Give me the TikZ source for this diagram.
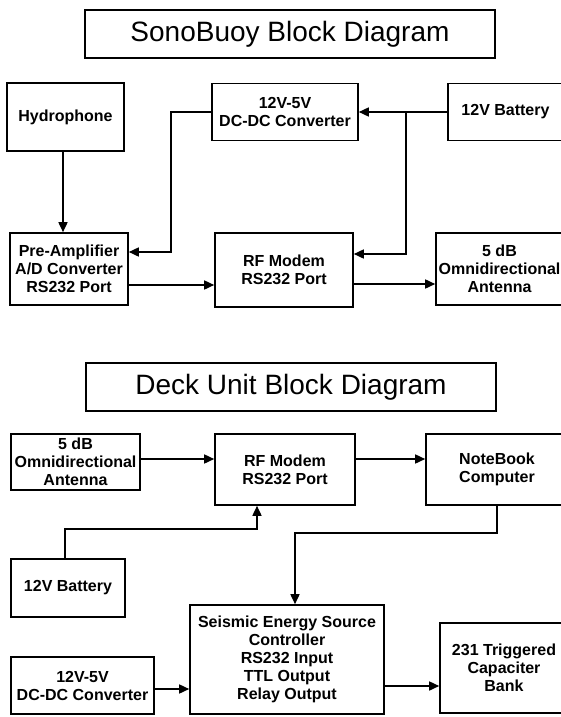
\documentclass[tikz,border=0pt]{standalone}
\usepackage{fontspec}
\setmainfont{Liberation Sans}
\usetikzlibrary{arrows.meta,calc}
\begin{document}
\begin{tikzpicture}[x=1pt,y=-1pt,
  box/.style={draw,line width=1.6pt,rectangle,inner sep=0pt,align=center,
    font=\fontsize{16}{18}\selectfont\bfseries},
  titlebox/.style={draw,line width=1.5pt,rectangle,inner sep=0pt,
    font=\fontsize{28}{32}\selectfont},
  arr/.style={line width=1.6pt,-{Triangle[length=10pt,width=9pt]}},
  ln/.style={line width=1.6pt}]
\clip (0,0) rectangle (561,717);
\fill[white] (0,0) rectangle (561,717);

% ---------- SonoBuoy ----------
\node[titlebox,minimum width=410,minimum height=48] (t1) at (290,34) {SonoBuoy Block Diagram};
\node[box,minimum width=117,minimum height=68] (hydro) at (65.5,117) {Hydrophone};
\node[box,minimum width=146,minimum height=57] (dc1) at (285,112) {12V-5V\\DC-DC Converter};
\node[box,minimum width=115,minimum height=57] (bat1) at (505.5,112) {12V Battery};
\node[box,minimum width=118,minimum height=72] (pre) at (69,269) {Pre-Amplifier\\A/D Converter\\RS232 Port};
\node[box,minimum width=138,minimum height=74] (rf1) at (284,270) {RF Modem\\RS232 Port};
\node[box,minimum width=127,minimum height=72] (ant1) at (499.5,269) {5 dB\\Omnidirectional\\Antenna};

\coordinate (j1) at (406,112);
\coordinate (c1) at (171,112);
\draw[arr] (bat1.west) -- (dc1.east);
\draw[arr] (j1) |- ([yshift=16pt]rf1.east);
\draw[arr] (dc1.west) -- (c1) |- ([yshift=17pt]pre.east);
\draw[arr] ([xshift=-2.5pt]hydro.south) -- ([xshift=-2.5pt]hydro.south |- pre.north);
\draw[arr] ([yshift=-16pt]pre.east) -- ([yshift=-16pt]pre.east -| rf1.west);
\draw[arr] ([yshift=-14pt]rf1.east) -- ([yshift=-14pt]rf1.east -| ant1.west);

% ---------- Deck Unit ----------
\node[titlebox,minimum width=410,minimum height=48] (t2) at (291,387) {Deck Unit Block Diagram};
\node[box,minimum width=129,minimum height=56] (ant2) at (75.5,462) {5 dB\\Omnidirectional\\Antenna};
\node[box,minimum width=140,minimum height=71] (rf2) at (285,469.5) {RF Modem\\RS232 Port};
\node[box,minimum width=142,minimum height=71] (nb) at (497,469.5) {NoteBook\\Computer};
\node[box,minimum width=114,minimum height=58] (bat2) at (68,588) {12V Battery};
\node[box,minimum width=194,minimum height=109] (ses) at (287,659.5) {Seismic Energy Source\\Controller\\RS232 Input\\TTL Output\\Relay Output};
\node[box,minimum width=143,minimum height=57] (dc2) at (82.5,685.5) {12V-5V\\DC-DC Converter};
\node[box,minimum width=128,minimum height=90] (cap) at (504,668) {231 Triggered\\Capaciter\\Bank};

\coordinate (k1) at (257,529);
\coordinate (k2) at (295,533);
\draw[arr] ([yshift=3pt]ant2.east) -- ([yshift=3pt]ant2.east -| rf2.west);
\draw[arr] ([yshift=10.5pt]rf2.east) -- ([yshift=10.5pt]rf2.east -| nb.west);
\draw[arr] ([xshift=-3pt]bat2.north) |- (k1) -- (k1 |- rf2.south);
\draw[arr] (nb.south) |- (k2) -- (k2 |- ses.north);
\draw[arr] ([yshift=-3.5pt]dc2.east) -- ([yshift=-3.5pt]dc2.east -| ses.west);
\draw[arr] ([yshift=-26.5pt]ses.east) -- ([yshift=-26.5pt]ses.east -| cap.west);
\end{tikzpicture}
\end{document}
